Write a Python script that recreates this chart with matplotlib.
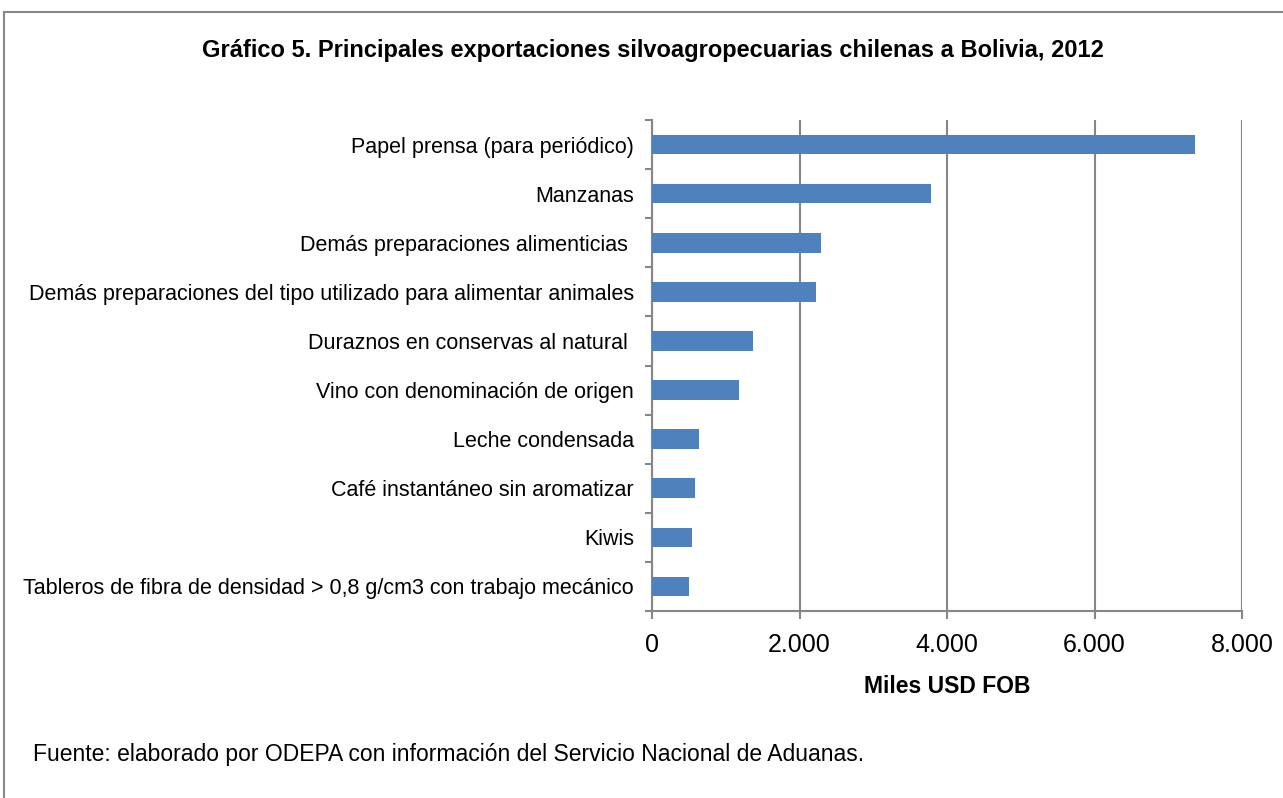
import matplotlib.pyplot as plt
import matplotlib.patches as mpatches
import numpy as np

plt.rcParams['font.family'] = ['Liberation Sans', 'DejaVu Sans']

categorias = [
    "Papel prensa (para periódico)",
    "Manzanas",
    "Demás preparaciones alimenticias ",
    "Demás preparaciones del tipo utilizado para alimentar animales",
    "Duraznos en conservas al natural ",
    "Vino con denominación de origen",
    "Leche condensada",
    "Café instantáneo sin aromatizar",
    "Kiwis",
    "Tableros de fibra de densidad > 0,8 g/cm3 con trabajo mecánico",
]
valores = [7360, 3780, 2295, 2220, 1365, 1175, 635, 585, 540, 500]
ticks_x = [0, 2000, 4000, 6000, 8000]
etiquetas_x = ["0", "2.000", "4.000", "6.000", "8.000"]

W, H = 1283, 798
fig = plt.figure(figsize=(W / 100, H / 100), dpi=100)

# marco exterior
fig.patches.append(mpatches.Rectangle((4 / W, -0.01), 1.1, 1 - 12 / H + 0.01,
                                      transform=fig.transFigure, fill=False,
                                      edgecolor='#878787', linewidth=1.5))

ax = fig.add_axes([652 / W, 1 - 611 / H, (1242 - 652) / W, (611 - 120) / H])

y = np.arange(len(categorias))
ax.barh(y, valores, height=0.4, color='#4F81BD', zorder=3)
ax.set_ylim(len(categorias) - 0.5, -0.5)
ax.set_xlim(0, 8000)

ax.set_yticks(y)
ax.set_yticklabels(categorias, fontsize=15.5)
ax.tick_params(axis='y', which='major', length=0, pad=13)
ax.set_yticks(np.arange(len(categorias) + 1) - 0.5, minor=True)
ax.tick_params(axis='y', which='minor', length=5, width=1.5, color='#868686')

ax.set_xticks(ticks_x)
ax.set_xticklabels(etiquetas_x, fontsize=18)
ax.tick_params(axis='x', length=6, width=1.5, color='#868686', pad=10)
ax.grid(axis='x', color='#868686', linewidth=1.5, zorder=0)

for s in ['top', 'right']:
    ax.spines[s].set_visible(False)
for s in ['left', 'bottom']:
    ax.spines[s].set_color('#868686')
    ax.spines[s].set_linewidth(1.5)

ax.set_xlabel("Miles USD FOB", fontsize=16.5, fontweight='bold', labelpad=13)

fig.text(653 / W, 1 - 50 / H,
         "Gráfico 5. Principales exportaciones silvoagropecuarias chilenas a Bolivia, 2012",
         ha='center', va='center', fontsize=17, fontweight='bold')
fig.text(33 / W, 1 - 755 / H,
         "Fuente: elaborado por ODEPA con información del Servicio Nacional de Aduanas.",
         ha='left', va='center', fontsize=16.5)

fig.savefig("out.png", dpi=100)
